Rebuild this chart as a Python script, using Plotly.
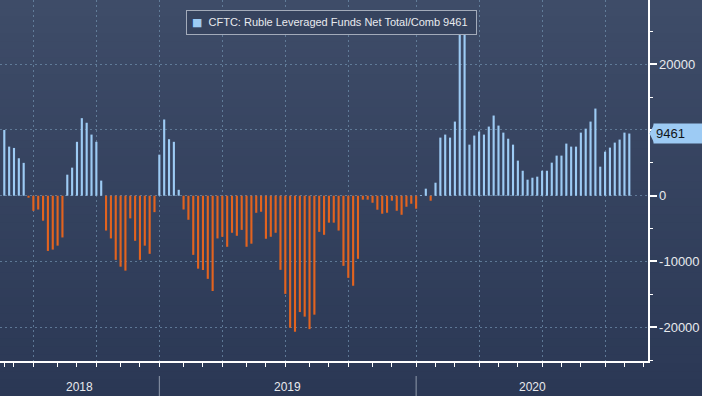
import pandas as pd
import plotly.graph_objects as go

# ---- data -------------------------------------------------------------
start_date = "2018-05-22"
n_weeks = 130
dates = pd.date_range(start=start_date, periods=n_weeks, freq="7D")

net_positions = [
    10000, 7470, 7270, 5700, 5000, -300, -2300, -2100, -3800, -8400,
    -8200, -7600, -6350, 3200, 4270, 8200, 11800, 11100, 9300, 8200,
    2300, -5300, -6500, -9760, -10800, -11400, -3450, -6860, -9760, -7600,
    -8840, -2500, 6250, 11600, 8600, 8200, 900, -2100, -3660, -9000,
    -11100, -11300, -12650, -14500, -6500, -6250, -7770, -5640, -6100, -5200,
    -7770, -7300, -2600, -2440, -6550, -6250, -5640, -11280, -14940, -20100,
    -20700, -17700, -18400, -20300, -18100, -5500, -5950, -4100, -4100, -5300,
    -10670, -12500, -13700, -9600, -600, -600, -1070, -2130, -2740, -2590,
    -760, -2290, -2900, -1680, -1220, -1980, 100, 1070, -760, 1980,
    8840, 9300, 8840, 11280, 24500, 25300, 7770, 9150, 9760, 9300,
    10520, 12200, 10670, 9600, 8670, 7770, 5340, 3800, 2440, 2740,
    2900, 3800, 3800, 5030, 6100, 6100, 7930, 7470, 7470, 9600,
    10200, 11280, 13260, 4420, 6700, 7320, 8080, 8540, 9600, 9461,
]
series_name = "CFTC: Ruble Leveraged Funds Net Total/Comb"
y_tick_values = [-20000, -10000, 0, 10000, 20000]
year_labels = ["2018", "2019", "2020"]

# ---- styling ----------------------------------------------------------
POS = "#9dcbf4"
NEG = "#e2631f"
GRID = "rgba(110,140,170,0.75)"
TXT = "#e8eaee"
FONT = "Liberation Sans"

colors = [POS if v >= 0 else NEG for v in net_positions]
last_val = net_positions[-1]

W, H = 702, 396
ML, MR, MT, MB = 0, 54, 0, 35
plot_w = W - ML - MR
plot_h = H - MT - MB
y_range = [-25150, 29780]
px_per_unit = plot_h / (y_range[1] - y_range[0])

# tick labels hidden where the last-value callout sits on top of them
y_tick_text = [("" if abs(v - last_val) * px_per_unit < 14 else str(v)) for v in y_tick_values]

# axis range (dates)
px_per_day = 4.845 / 7.0
x_start = dates[0] - pd.Timedelta(days=4.3 / px_per_day)
x_end = x_start + pd.Timedelta(days=plot_w / px_per_day)

# month / quarter ticks at the first weekly observation of each month
s = pd.Series(dates)
first_of_month = s.groupby([s.dt.year, s.dt.month]).first().tolist()
quarter_ticks = [d for d in first_of_month if d.month in (1, 4, 7, 10)]
month_ticks = first_of_month + [pd.Timestamp("2020-12-01")]
year_starts = [d for d in first_of_month if d.month == 1]

fig = go.Figure()
fig.add_trace(go.Bar(
    x=dates, y=net_positions,
    marker=dict(color=colors, line=dict(width=0)),
    name=f"{series_name} {last_val}",
    showlegend=False,
    hoverinfo="skip",
))

# gradient background bands
shapes = []
n_bands = 48
top_c = (62, 76, 104)
bot_c = (43, 56, 85)
total_paper_h = H / plot_h
for i in range(n_bands):
    t = i / (n_bands - 1)
    c = tuple(int(round(top_c[k] + (bot_c[k] - top_c[k]) * t)) for k in range(3))
    y1 = 1 - (i / n_bands) * total_paper_h
    y0 = 1 - ((i + 1) / n_bands) * total_paper_h - 0.002
    shapes.append(dict(type="rect", xref="paper", yref="paper",
                       x0=-0.05, x1=1.2, y0=y0, y1=y1,
                       fillcolor=f"rgb{c}", line=dict(width=0), layer="below"))

# year separators below axis
for d in year_starts:
    shapes.append(dict(type="line", xref="x", yref="paper",
                       x0=d, x1=d, y0=-15 / plot_h, y1=-36 / plot_h,
                       line=dict(color="#8f99ab", width=1)))

# callout arrow for last value
dy = 9 / px_per_unit
shapes.append(dict(type="path", xref="paper", yref="y",
                   path=(f"M {1 + 1.5/plot_w} {last_val} "
                         f"L {1 + 6/plot_w} {last_val + dy} "
                         f"L {1 + 6/plot_w} {last_val - dy} Z"),
                   fillcolor=POS, line=dict(width=0), layer="above"))

# year labels centred in each segment
bounds = [x_start] + year_starts + [x_end]
annotations = []
for lab, a, b in zip(year_labels, bounds[:-1], bounds[1:]):
    annotations.append(dict(x=a + (b - a) / 2, xref="x", y=-26 / plot_h, yref="paper",
                            text=lab, showarrow=False, yanchor="middle",
                            font=dict(family=FONT, size=12, color=TXT)))

# last-value callout
annotations.append(dict(x=1, xref="paper", y=last_val, yref="y",
                        text=f"{last_val}", showarrow=False,
                        xanchor="left", yanchor="middle", xshift=5,
                        width=50, align="left", bgcolor=POS, borderpad=2,
                        font=dict(family=FONT, size=13, color="#101418")))

# legend box
annotations.append(dict(x=186 / plot_w, xref="paper", y=1 - 10 / plot_h, yref="paper",
                        xanchor="left", yanchor="top", showarrow=False,
                        text=(f"<span style='color:{POS};font-family:DejaVu Sans'>■</span>"
                              f"  {series_name} {last_val} "),
                        bgcolor="#36435e", bordercolor="#a3abba", borderwidth=1,
                        borderpad=5, align="left",
                        font=dict(family=FONT, size=11, color=TXT)))

fig.update_layout(
    width=W, height=H,
    margin=dict(l=ML, r=MR, t=MT, b=MB, pad=0),
    paper_bgcolor="rgb(43,56,85)",
    plot_bgcolor="rgba(0,0,0,0)",
    bargap=0.56,
    shapes=shapes,
    annotations=annotations,
    font=dict(family=FONT, color=TXT, size=12),
    showlegend=False,
    hovermode=False,
    xaxis=dict(
        type="date", range=[x_start, x_end],
        tickmode="array", tickvals=quarter_ticks, showticklabels=False,
        ticks="outside", ticklen=4, tickwidth=1, tickcolor="#ffffff",
        showgrid=True, gridcolor=GRID, griddash="2px,3px", gridwidth=1,
        showline=True, linecolor="#ffffff", linewidth=1.5,
        zeroline=False,
        minor=dict(tickmode="array", tickvals=month_ticks, ticks="outside",
                   ticklen=4, tickwidth=1, tickcolor="#ffffff", showgrid=False),
    ),
    yaxis=dict(
        side="right", range=y_range,
        tickmode="array", tickvals=y_tick_values,
        ticktext=y_tick_text,
        ticks="outside", ticklen=7, tickwidth=2, tickcolor="#ffffff",
        tickfont=dict(family=FONT, size=13, color=TXT),
        showgrid=True, gridcolor=GRID, griddash="2px,3px", gridwidth=1,
        showline=True, linecolor="#ffffff", linewidth=1.5,
        zeroline=False,
        minor=dict(dtick=5000, tick0=0, ticks="outside", ticklen=3,
                   tickwidth=1, tickcolor="#ffffff", showgrid=False),
    ),
)

fig.write_html(
    "out.html",
    config={"displayModeBar": False, "staticPlot": True},
    post_script="document.body.style.margin='0';document.body.style.overflow='hidden';",
)
